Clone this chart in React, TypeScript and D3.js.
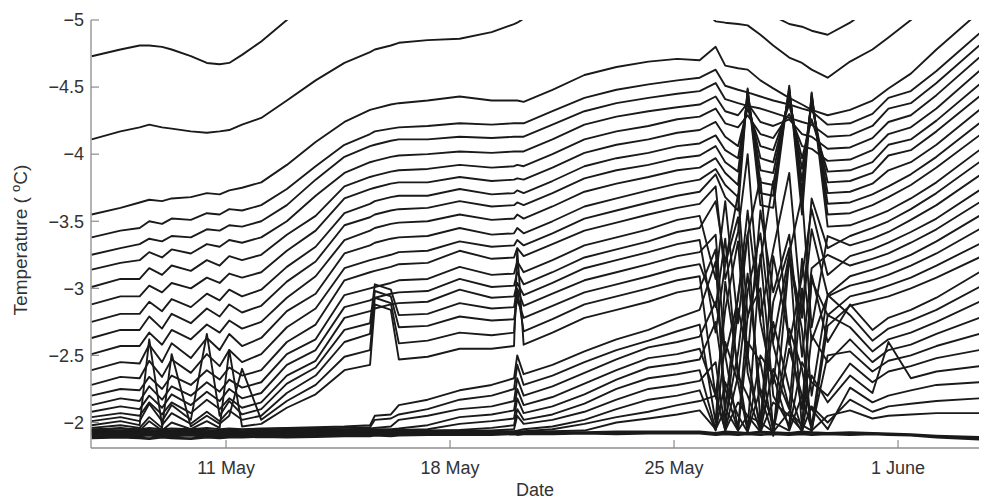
import * as d3 from "d3";

// time of each reading, in days of May (1 June = day 32)
const days = [6.8, 7.7, 8.3, 8.6, 9.0, 9.3, 9.9, 10.4, 10.8, 11.1, 11.5, 12.1, 12.9, 13.8, 14.7, 15.5, 15.65, 16.15, 16.4, 17.3, 18.3, 19.3, 20.0, 20.1, 20.3, 21.2, 22.2, 23.2, 24.2, 25.1, 25.8, 26.3, 26.6, 27.0, 27.3, 27.7, 28.1, 28.6, 29.0, 29.3, 29.8, 30.5, 31.2, 31.7, 32.4, 33.2, 34.54];

const xTickDays = [11, 18, 25, 32];
const xTickLabels = ["11 May", "18 May", "25 May", "1 June"];
const yTicks = [-5, -4.5, -4, -3.5, -3, -2.5, -2];

// thermistor traces (deg C); values below -5 run off the top of the axes
const s1 = [-4.73, -4.78, -4.81, -4.81, -4.80, -4.78, -4.73, -4.68, -4.67, -4.68, -4.74, -4.84, -5.00, -5.15, -5.30,
  -5.30, -5.30, -5.30, -5.30, -5.30, -5.30, -5.30, -5.30, -5.30, -5.30, -5.30, -5.30, -5.30, -5.30, -5.30, -5.30,
  -5.30, -5.30, -5.30, -5.30, -5.30, -5.03, -4.97, -4.95, -4.92, -4.89, -4.98, -5.10, -5.30, -5.30, -5.30, -5.30];
const s2 = [-4.11, -4.17, -4.20, -4.22, -4.20, -4.19, -4.17, -4.16, -4.17, -4.18, -4.22, -4.27, -4.40, -4.55, -4.68, -4.76,
  -4.78, -4.81, -4.83, -4.85, -4.86, -4.91, -4.97, -4.98, -5.01, -5.11, -5.25, -5.30, -5.30, -5.30, -5.10, -4.99, -4.98,
  -4.97, -4.96, -4.89, -4.81, -4.72, -4.68, -4.63, -4.57, -4.69, -4.78, -4.87, -5.00, -5.15, -5.30];
const u0 = [-3.55, -3.60, -3.64, -3.66, -3.65, -3.67, -3.68, -3.71, -3.70, -3.73, -3.75, -3.79, -3.92, -4.09, -4.24, -4.33,
  -4.34, -4.37, -4.38, -4.40, -4.43, -4.40, -4.40, -4.40, -4.39, -4.48, -4.59, -4.65, -4.69, -4.71, -4.70, -4.80, -4.66,
  -4.64, -4.63, -4.55, -4.49, -4.42, -4.37, -4.33, -4.29, -4.33, -4.40, -4.49, -4.60, -4.78, -5.06];
const u1 = [-3.38, -3.43, -3.45, -3.50, -3.48, -3.52, -3.51, -3.56, -3.55, -3.59, -3.58, -3.62,
  -3.74, -3.91, -4.07, -4.15, -4.17, -4.19, -4.20, -4.21, -4.23, -4.22, -4.23, -4.23, -4.23,
  -4.32, -4.42, -4.48, -4.52, -4.55, -4.57,
  -4.63, -4.51, -4.48, -4.46, -4.43, -4.40, -4.37, -4.34, -4.32, -4.22, -4.23,
  -4.30, -4.42, -4.47, -4.62, -4.90];
const u2 = [-3.25, -3.30, -3.33, -3.37, -3.35, -3.39, -3.38, -3.44, -3.43, -3.47, -3.46, -3.50,
  -3.62, -3.81, -3.98, -4.06, -4.07, -4.10, -4.11, -4.11, -4.13, -4.12, -4.13, -4.13, -4.13,
  -4.22, -4.32, -4.38, -4.42, -4.45, -4.47,
  -4.53, -4.41, -4.38, -4.36, -4.34, -4.31, -4.27, -4.24, -4.22, -4.13, -4.14,
  -4.21, -4.34, -4.38, -4.53, -4.81];
const u3 = [-3.14, -3.19, -3.21, -3.27, -3.23, -3.29, -3.26, -3.33, -3.31, -3.36, -3.34, -3.38,
  -3.50, -3.69, -3.86, -3.94, -3.95, -3.98, -3.99, -4.00, -4.02, -4.01, -4.02, -4.02, -4.02,
  -4.11, -4.22, -4.28, -4.32, -4.35, -4.37,
  -4.43, -4.32, -4.29, -4.38, -4.24, -4.21, -4.26, -4.15, -4.13, -4.04, -4.05,
  -4.12, -4.24, -4.29, -4.44, -4.72];
const u4 = [-3.01, -3.07, -3.07, -3.15, -3.10, -3.17, -3.13, -3.21, -3.17, -3.24, -3.21, -3.25,
  -3.40, -3.54, -3.76, -3.83, -3.84, -3.87, -3.88, -3.89, -3.92, -3.90, -3.91, -3.92, -3.91,
  -4.00, -4.11, -4.17, -4.21, -4.26, -4.28,
  -4.34, -4.23, -4.20, -4.29, -4.15, -4.12, -4.30, -4.06, -4.04, -3.95, -3.96,
  -4.03, -4.15, -4.20, -4.34, -4.62];
const u5 = [-2.88, -2.94, -2.94, -3.02, -2.97, -3.04, -3.00, -3.08, -3.04, -3.11, -3.08, -3.12,
  -3.28, -3.43, -3.67, -3.74, -3.75, -3.78, -3.79, -3.79, -3.83, -3.80, -3.81, -3.82, -3.81,
  -3.90, -4.01, -4.07, -4.11, -4.16, -4.18,
  -4.24, -4.13, -4.06, -4.34, -4.06, -4.03, -4.37, -3.97, -4.26, -3.87, -3.88,
  -3.94, -4.07, -4.11, -4.25, -4.52];
const u6 = [-2.75, -2.81, -2.81, -2.90, -2.83, -2.92, -2.86, -2.96, -2.91, -2.99, -2.94, -2.99,
  -3.16, -3.31, -3.56, -3.63, -3.65, -3.68, -3.69, -3.69, -3.74, -3.70, -3.71, -3.73, -3.71,
  -3.80, -3.91, -3.97, -4.01, -4.06, -4.08,
  -4.14, -4.03, -3.97, -4.39, -3.97, -3.94, -4.42, -3.89, -4.37, -3.79, -3.80,
  -3.86, -3.99, -4.03, -4.17, -4.43];
const u7 = [-2.63, -2.69, -2.69, -2.79, -2.70, -2.81, -2.74, -2.85, -2.79, -2.88, -2.82, -2.87,
  -3.05, -3.20, -3.47, -3.53, -3.55, -3.58, -3.59, -3.60, -3.65, -3.61, -3.62, -3.64, -3.62,
  -3.71, -3.82, -3.88, -3.92, -3.97, -3.99,
  -4.06, -3.94, -3.87, -4.43, -3.88, -3.86, -4.45, -3.80, -4.40, -3.71, -3.72,
  -3.78, -3.88, -3.94, -4.07, -4.33];
const u8 = [-2.51, -2.57, -2.57, -2.67, -2.58, -2.69, -2.62, -2.73, -2.67, -2.76, -2.70, -2.75,
  -2.93, -3.09, -3.36, -3.43, -3.45, -3.48, -3.49, -3.50, -3.55, -3.51, -3.52, -3.55, -3.52,
  -3.61, -3.72, -3.78, -3.83, -3.88, -3.90,
  -3.97, -3.86, -3.77, -4.46, -3.79, -3.77, -4.47, -3.72, -4.43, -3.63, -3.64,
  -3.70, -3.76, -3.85, -3.98, -4.23];
const u9 = [-2.39, -2.45, -2.44, -2.58, -2.45, -2.59, -2.48, -2.63, -2.54, -2.66, -2.57, -2.63,
  -2.83, -2.96, -3.26, -3.32, -3.34, -3.37, -3.38, -3.39, -3.45, -3.40, -3.41, -3.45, -3.41,
  -3.50, -3.61, -3.67, -3.73, -3.78, -3.81,
  -3.89, -3.77, -3.68, -4.48, -3.71, -3.69, -4.49, -3.64, -4.45, -3.55, -3.56,
  -3.62, -3.68, -3.77, -3.90, -4.14];
const u10 = [-2.28, -2.34, -2.33, -2.46, -2.34, -2.47, -2.37, -2.51, -2.42, -2.54, -2.45, -2.51,
  -2.71, -2.85, -3.15, -3.21, -3.22, -3.25, -3.27, -3.28, -3.35, -3.31, -3.32, -3.36, -3.32,
  -3.41, -3.52, -3.58, -3.64, -3.69, -3.72,
  -3.85, -3.68, -3.58, -4.49, -3.62, -3.60, -4.51, -3.55, -4.46, -3.46, -3.47,
  -3.53, -3.58, -3.67, -3.79, -4.03];
const u11 = [-2.20, -2.25, -2.24, -2.34, -2.25, -2.35, -2.28, -2.39, -2.32, -2.41, -2.35, -2.39,
  -2.60, -2.73, -3.06, -3.12, -3.13, -3.16, -3.18, -3.19, -3.28, -3.22, -3.23, -3.30, -3.24,
  -3.33, -3.43, -3.49, -3.55, -3.60, -3.63,
  -3.76, -3.07, -3.42, -4.00, -2.79, -3.29, -3.86, -2.79, -3.67, -3.30, -3.39,
  -3.45, -3.50, -3.59, -3.71, -3.94];
const u12 = [-2.13, -2.18, -2.16, -2.27, -2.17, -2.27, -2.20, -2.30, -2.23, -2.32, -2.26, -2.30,
  -2.51, -2.62, -2.95, -3.00, -3.01, -3.04, -3.06, -3.07, -3.16, -3.10, -3.11, -3.20, -3.12,
  -3.21, -3.32, -3.38, -3.44, -3.51, -3.54,
  -3.07, -3.65, -2.74, -3.40, -3.82, -2.61, -3.26, -3.69, -2.71, -3.39, -3.32,
  -3.37, -3.42, -3.51, -3.62, -3.84];
const u13 = [-2.08, -2.12, -2.10, -2.20, -2.11, -2.21, -2.13, -2.23, -2.16, -2.25, -2.18, -2.22,
  -2.43, -2.54, -2.86, -2.91, -2.93, -2.96, -2.97, -2.98, -3.07, -3.01, -3.02, -3.12, -3.03,
  -3.12, -3.23, -3.29, -3.35, -3.42, -3.45,
  -3.65, -3.19, -3.70, -2.78, -3.21, -3.80, -2.58, -3.09, -3.59, -3.10, -3.24,
  -3.29, -3.34, -3.42, -3.52, -3.73];
const u14 = [-2.04, -2.07, -2.05, -2.15, -2.06, -2.15, -2.07, -2.17, -2.10, -2.18, -2.11, -2.15,
  -2.35, -2.46, -2.78, -2.83, -2.85, -2.88, -2.89, -2.90, -2.99, -2.93, -2.94, -3.04, -2.95,
  -3.04, -3.15, -3.21, -3.27, -3.33, -3.36,
  -2.67, -3.18, -3.53, -2.48, -3.58, -2.97, -3.40, -2.49, -3.15, -3.25, -3.17,
  -3.22, -3.26, -3.34, -3.44, -3.64];
const u15 = [-2.01, -2.04, -2.01, -2.14, -2.01, -2.13, -2.02, -2.66, -2.05, -2.16, -2.06, -2.10,
  -2.29, -2.41, -2.69, -2.74, -3.03, -2.99, -2.80, -2.81, -2.89, -2.85, -2.86, -3.00, -2.87,
  -2.96, -3.06, -3.12, -3.18, -3.24, -3.27,
  -3.40, -2.50, -2.92, -3.58, -2.75, -2.29, -3.24, -2.78, -3.44, -2.95, -3.09,
  -3.14, -3.18, -3.25, -3.35, -3.54];
const u16 = [-1.98, -2.01, -1.98, -2.62, -1.98, -2.07, -1.99, -2.08, -2.01, -2.09, -2.02, -2.05,
  -2.22, -2.35, -2.60, -2.66, -2.98, -2.94, -2.71, -2.72, -2.79, -2.76, -2.77, -2.92, -2.78,
  -2.87, -2.97, -3.03, -3.09, -3.15, -3.18,
  -2.86, -3.37, -2.32, -2.98, -3.41, -2.58, -2.11, -3.22, -2.61, -2.94, -3.02,
  -3.06, -3.10, -3.17, -3.26, -3.44];
const u17 = [-1.96, -1.98, -1.96, -2.04, -1.96, -2.51, -1.97, -2.05, -1.99, -2.05, -2.40, -2.02,
  -2.16, -2.28, -2.49, -2.54, -2.93, -2.89, -2.59, -2.61, -2.67, -2.65, -2.67, -2.99, -2.68,
  -2.77, -2.88, -2.94, -3.00, -3.06, -3.09,
  -2.19, -2.84, -3.35, -2.37, -1.99, -3.24, -2.63, -2.10, -3.06, -2.80, -2.94,
  -2.98, -3.02, -3.08, -3.17, -3.33];
const u18 = [-1.94, -1.96, -1.94, -2.01, -1.94, -2.00, -1.95, -2.01, -1.96, -2.54, -1.97, -1.99,
  -2.11, -2.21, -2.39, -2.43, -2.88, -2.84, -2.47, -2.49, -2.55, -2.55, -2.57, -3.29, -2.58,
  -2.67, -2.78, -2.84, -2.90, -2.97, -3.00,
  -3.29, -2.01, -2.52, -3.11, -2.21, -1.90, -3.22, -2.69, -1.93, -2.72, -2.87,
  -2.91, -2.94, -3.00, -3.08, -3.23];
const l0 = [-1.95, -1.955, -1.95, -1.96, -1.95, -1.955, -1.95, -1.96, -1.95, -1.955, -1.95, -1.955, -1.96, -1.965, -1.97,
  -1.98, -2.05, -2.06, -2.13, -2.17, -2.24, -2.28, -2.33, -2.50, -2.36, -2.43, -2.53, -2.62, -2.69, -2.78, -2.84,
  -3.20, -2.10, -2.95, -3.40, -2.00, -2.90, -3.30, -1.95, -3.10, -2.60,
  -2.88, -2.69, -2.78, -2.84, -2.93, -3.12];
const l1 = [-1.945, -1.94, -1.95, -1.94, -1.945, -1.94, -1.95, -1.945, -1.94, -1.95, -1.945, -1.95, -1.955, -1.955, -1.96, -1.965,
  -2.02, -2.03, -2.06, -2.10, -2.17, -2.20, -2.25, -2.43, -2.28, -2.35, -2.45, -2.54, -2.61, -2.68, -2.73,
  -2.00, -3.05, -2.40, -1.95, -3.25, -2.20, -1.98, -3.00, -2.20, -2.95,
  -2.80, -2.61, -2.70, -2.76, -2.84, -3.01];
const l2 = [-1.94, -1.935, -1.94, -1.945, -1.935, -1.94, -1.945, -1.935, -1.94, -1.94, -1.935, -1.94, -1.945, -1.95, -1.95, -1.955, -1.96, -1.97,
  -2.02, -2.05, -2.10, -2.12, -2.16, -2.33, -2.20, -2.27, -2.37, -2.47, -2.56, -2.60, -2.64,
  -2.90, -2.50, -1.95, -2.80, -3.00, -1.95, -2.70, -2.40, -1.97, -2.80,
  -2.71, -2.53, -2.62, -2.67, -2.75, -2.90];
const l3 = [-1.935, -1.93, -1.935, -1.94, -1.93, -1.935, -1.94, -1.93, -1.935, -1.935, -1.93, -1.935, -1.94, -1.94, -1.945, -1.945, -1.95, -1.95, -1.955,
  -1.98, -2.04, -2.06, -2.09, -2.25, -2.13, -2.19, -2.29, -2.39, -2.48, -2.51, -2.55,
  -2.20, -1.95, -2.85, -2.50, -1.93, -2.75, -2.25, -1.95, -2.65, -2.45,
  -2.62, -2.45, -2.54, -2.58, -2.66, -2.78];
const l4 = [-1.93, -1.925, -1.93, -1.935, -1.925, -1.93, -1.935, -1.925, -1.93, -1.93, -1.925, -1.93, -1.935, -1.935, -1.94, -1.94, -1.94, -1.945, -1.945, -1.95,
  -1.99, -2.01, -2.03, -2.18, -2.07, -2.12, -2.21, -2.32, -2.41, -2.44, -2.47,
  -2.75, -2.25, -1.94, -2.60, -2.45, -1.93, -2.55, -2.20, -1.95, -2.50,
  -2.53, -2.38, -2.46, -2.50, -2.57, -2.66];
const l5 = [-1.925, -1.92, -1.925, -1.93, -1.92, -1.925, -1.93, -1.92, -1.925, -1.925, -1.92, -1.925, -1.93, -1.93, -1.935, -1.935, -1.935, -1.94, -1.94, -1.94, -1.945,
  -1.96, -1.98, -2.10, -2.02, -2.06, -2.14, -2.25, -2.33, -2.36, -2.39,
  -1.95, -2.60, -2.30, -1.93, -2.50, -2.35, -1.95, -2.45, -2.30, -2.20,
  -2.44, -2.30, -2.38, -2.42, -2.48, -2.54];
const l6 = [-1.92, -1.915, -1.92, -1.925, -1.915, -1.92, -1.925, -1.915, -1.92, -1.92, -1.915, -1.92, -1.925, -1.925, -1.93, -1.93, -1.93, -1.935, -1.935, -1.935, -1.94, -1.94,
  -1.95, -2.05, -1.99, -2.02, -2.08, -2.17, -2.25, -2.28, -2.31,
  -2.45, -1.94, -2.35, -2.20, -1.94, -2.40, -2.10, -1.93, -2.35, -2.15,
  -2.35, -2.22, -2.60, -2.33, -2.38, -2.42];
const l7 = [-1.915, -1.91, -1.915, -1.92, -1.91, -1.915, -1.92, -1.91, -1.915, -1.915, -1.91, -1.915, -1.92, -1.92, -1.925, -1.925, -1.925, -1.93, -1.93, -1.93, -1.935, -1.935, -1.935, -1.94,
  -1.95, -1.97, -2.02, -2.10, -2.17, -2.20, -2.24,
  -1.94, -2.30, -2.05, -1.93, -2.25, -2.00, -1.94, -2.20, -2.10, -1.95,
  -2.26, -2.15, -2.20, -2.24, -2.28, -2.30];
const l8 = [-1.91, -1.905, -1.91, -1.915, -1.905, -1.91, -1.915, -1.905, -1.91, -1.91, -1.905, -1.91, -1.915, -1.915, -1.92, -1.92, -1.92, -1.925, -1.925, -1.925, -1.93, -1.93, -1.93, -1.935, -1.935,
  -1.95, -1.99, -2.04, -2.08, -2.13, -2.16,
  -2.20, -1.94, -2.15, -2.05, -1.93, -2.15, -2.05, -1.94, -2.12, -2.00,
  -2.17, -2.08, -2.12, -2.14, -2.16, -2.18];
const l9 = [-1.905, -1.90, -1.905, -1.91, -1.90, -1.905, -1.91, -1.90, -1.905, -1.905, -1.90, -1.905, -1.91, -1.91, -1.915, -1.915, -1.915, -1.92, -1.92, -1.92, -1.925, -1.925, -1.925, -1.93, -1.93, -1.935,
  -1.94, -2.00, -2.03, -2.06, -2.09,
  -1.95, -2.10, -1.94, -2.05, -2.00, -1.93, -2.08, -1.98, -1.94, -2.05,
  -2.09, -2.03, -2.05, -2.06, -2.07, -2.07];
const b0 = [-1.90, -1.895, -1.90, -1.905, -1.895, -1.90, -1.905, -1.895, -1.90, -1.90,
  -1.895, -1.90, -1.905, -1.905, -1.91, -1.91, -1.91, -1.915, -1.915, -1.915,
  -1.92, -1.92, -1.92, -1.92, -1.925, -1.925, -1.925, -1.93, -1.93, -1.93,
  -1.93, -1.92, -1.93, -1.925, -1.92, -1.93, -1.925, -1.92, -1.93, -1.925,
  -1.92, -1.925, -1.92, -1.915, -1.91, -1.90, -1.89];
const b1 = [-1.885, -1.89, -1.885, -1.88, -1.89, -1.885, -1.88, -1.89, -1.885, -1.89,
  -1.89, -1.895, -1.89, -1.895, -1.90, -1.90, -1.905, -1.90, -1.905, -1.91,
  -1.91, -1.91, -1.915, -1.91, -1.915, -1.915, -1.92, -1.915, -1.92, -1.92,
  -1.92, -1.91, -1.915, -1.91, -1.915, -1.91, -1.915, -1.91, -1.915, -1.91,
  -1.915, -1.91, -1.915, -1.91, -1.905, -1.89, -1.875];

const traces = [s1, s2, u0, u1, u2, u3, u4, u5, u6, u7, u8, u9, u10, u11, u12, u13, u14, u15, u16, u17, u18,
  l0, l1, l2, l3, l4, l5, l6, l7, l8, l9];
const bundle = [b0, b1];

const W = 981;
const H = 501;
const m = { left: 91, right: 979, top: 20, bottom: 448 };

const t0 = Date.UTC(2010, 4, 1);
const toDate = (d: number) => new Date(t0 + (d - 1) * 864e5);

const fmtY = (v: number) => String(v).replace("-", "\u2212");

export default function App() {
  const x = d3.scaleUtc().domain([toDate(6.78), toDate(34.53)]).range([m.left, m.right]);
  const y = d3.scaleLinear().domain([-5, -1.81]).range([m.top, m.bottom]);

  const line = d3
    .line<number>()
    .x((_, i) => x(toDate(days[i])))
    .y((v) => y(v));

  const axisColor = "#8c8c8c";
  const textColor = "#333";
  const font = "'Liberation Sans', Arial, sans-serif";

  return (
    <svg
      width={W}
      height={H}
      style={{ position: "absolute", left: 0, top: 0, background: "#fff" }}
      fontFamily={font}
    >
      <defs>
        <clipPath id="plot">
          <rect x={m.left} y={m.top} width={m.right - m.left} height={m.bottom - m.top} />
        </clipPath>
      </defs>

      <g clipPath="url(#plot)" fill="none" stroke="#1a1a1a" strokeLinejoin="round">
        {bundle.map((s, i) => (
          <path key={"b" + i} d={line(s) || ""} strokeWidth={2.6} />
        ))}
        {traces.map((s, i) => (
          <path key={i} d={line(s) || ""} strokeWidth={1.9} />
        ))}
      </g>

      {/* axes */}
      <line x1={m.left} x2={m.left} y1={m.top} y2={m.bottom} stroke={axisColor} strokeWidth={1.3} />
      <line x1={m.left} x2={m.right} y1={m.bottom} y2={m.bottom} stroke={axisColor} strokeWidth={1.3} />

      {yTicks.map((t) => (
        <g key={t} transform={`translate(0,${y(t)})`}>
          <line x1={m.left} x2={m.left + 8} stroke={axisColor} strokeWidth={1.2} />
          <text x={m.left - 7} dy="0.35em" textAnchor="end" fontSize={18} fill={textColor}>
            {fmtY(t)}
          </text>
        </g>
      ))}

      {xTickDays.map((d, i) => (
        <g key={d} transform={`translate(${x(toDate(d))},0)`}>
          <line y1={m.bottom} y2={m.bottom - 8} stroke={axisColor} strokeWidth={1.2} />
          <text y={474} textAnchor="middle" fontSize={18} fill={textColor}>
            {xTickLabels[i]}
          </text>
        </g>
      ))}

      <text x={(m.left + m.right) / 2} y={496} textAnchor="middle" fontSize={18} fill={textColor}>
        Date
      </text>

      <text
        transform={`translate(27,${(m.top + m.bottom) / 2 + 6}) rotate(-90)`}
        textAnchor="middle"
        fontSize={19}
        fill={textColor}
      >
        {"Temperature ( "}
        <tspan dy={-7} fontSize={13}>o</tspan>
        <tspan dy={7}>C)</tspan>
      </text>
    </svg>
  );
}
